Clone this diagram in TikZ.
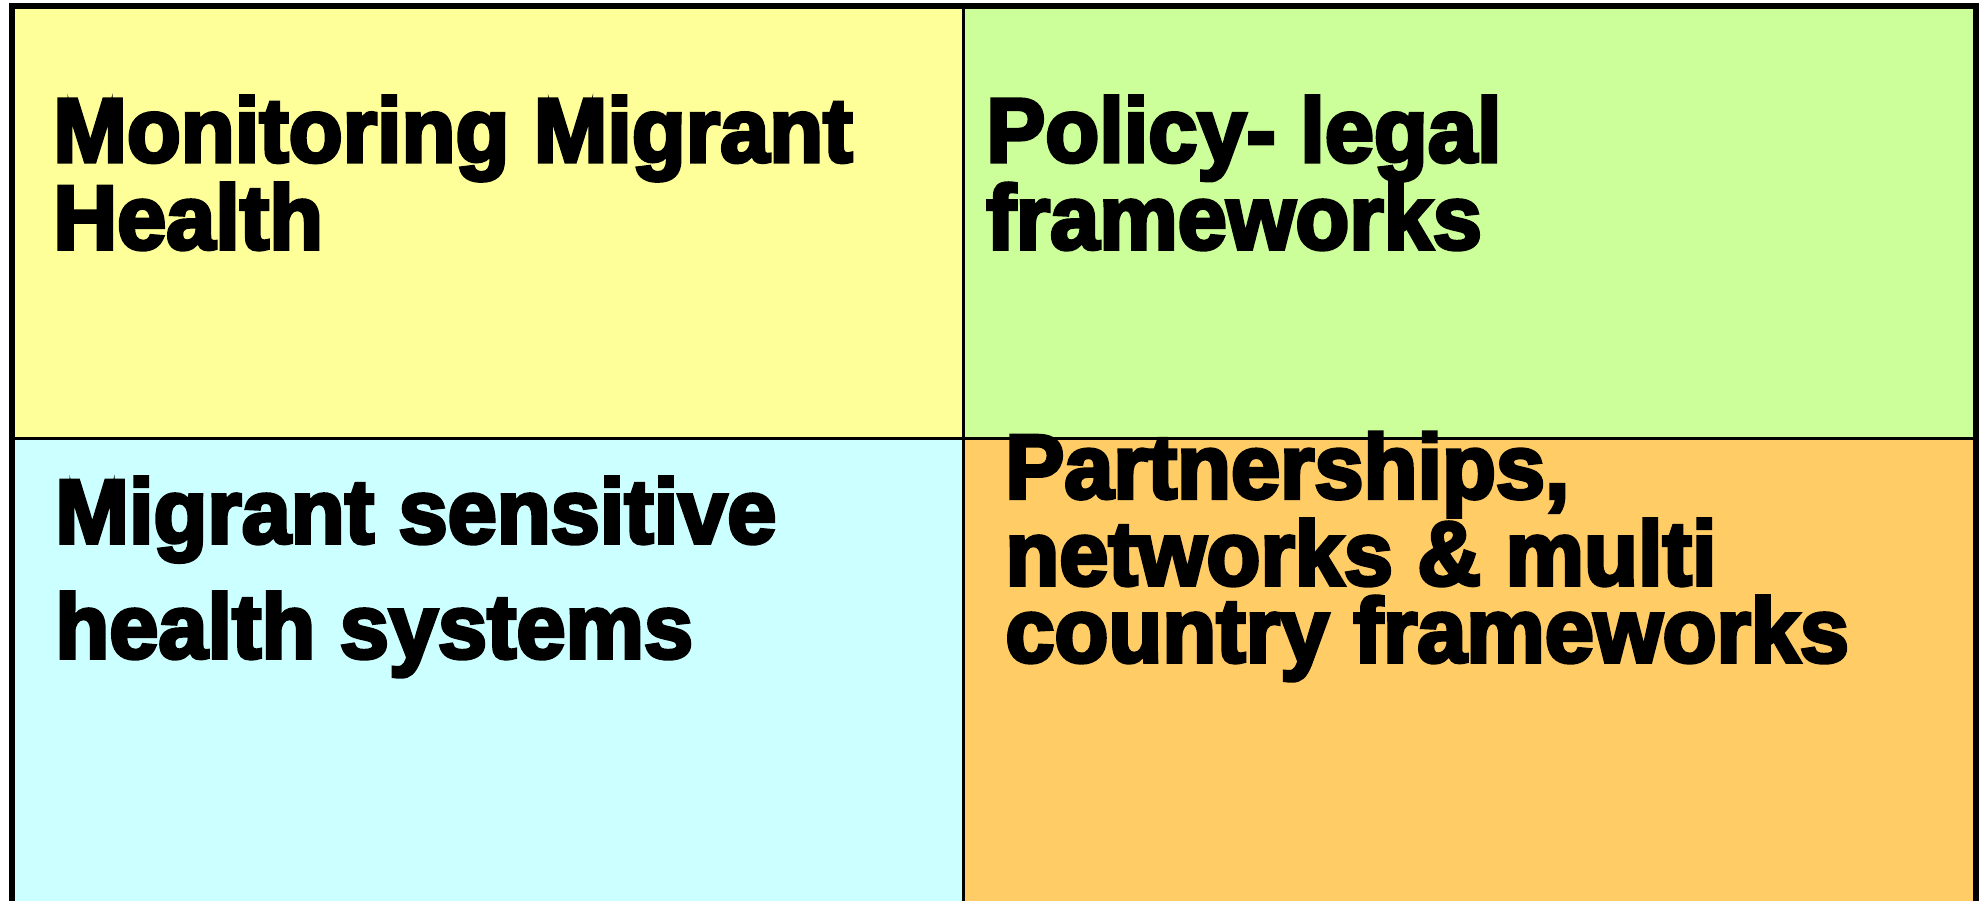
\documentclass[tikz,border=0pt]{standalone}
\usepackage{fontspec}
\newfontfamily\heavyfont{Liberation Sans Bold}[FakeBold=4,FakeStretch=0.97]
\definecolor{qyellow}{HTML}{FFFF99}
\definecolor{qgreen}{HTML}{CCFF99}
\definecolor{qcyan}{HTML}{CCFFFF}
\definecolor{qorange}{HTML}{FFCC66}
\tikzset{
  quadtext/.style={anchor=base west,inner sep=0pt,align=left,text=black,
    font=\heavyfont\fontsize{45.5pt}{#1}\selectfont},
  divider/.style={line width=1.5pt,black},
  frame/.style={line width=3pt,black}
}
\begin{document}
\begin{tikzpicture}[x=0.5pt,y=-0.5pt]
\useasboundingbox (0,0) rectangle (1982,900);
\clip (0,0) rectangle (1982,900);
\fill[white] (0,0) rectangle (1982,900);
% quadrants
\fill[qyellow] (12,6) rectangle (963.5,438.5);
\fill[qgreen] (963.5,6) rectangle (1975.5,438.5);
\fill[qcyan] (12,438.5) rectangle (963.5,920);
\fill[qorange] (963.5,438.5) rectangle (1975.5,920);
% dividers
\coordinate (vt) at (963.5,6);
\coordinate (vb) at (963.5,920);
\coordinate (hl) at (12,438.5);
\coordinate (hr) at (1975.5,438.5);
\draw[divider] (vt) -- (vb);
\draw[divider] (hl) -- (hr);
% outer frame (open at the bottom, beyond the picture)
\coordinate (fbl) at (12,920);
\coordinate (ftl) at (12,6);
\coordinate (ftr) at (1975.5,6);
\coordinate (fbr) at (1975.5,920);
\draw[frame] (fbl) -- (ftl) -- (ftr) -- (fbr);
% texts (anchored at the baseline of their last line)
\node[quadtext=37.5pt] (t1) at (53,249) {Monitoring Migrant\\Health};
\node[quadtext=37.5pt] (t2) at (986,249) {Policy- legal\\frameworks};
\node[quadtext=57.5pt] (t3) at (55,658) {Migrant sensitive\\health systems};
\node[quadtext=38.5pt] (t4) at (1005,662) {Partnerships,\\networks \& multi\\country frameworks};
\end{tikzpicture}
\end{document}
